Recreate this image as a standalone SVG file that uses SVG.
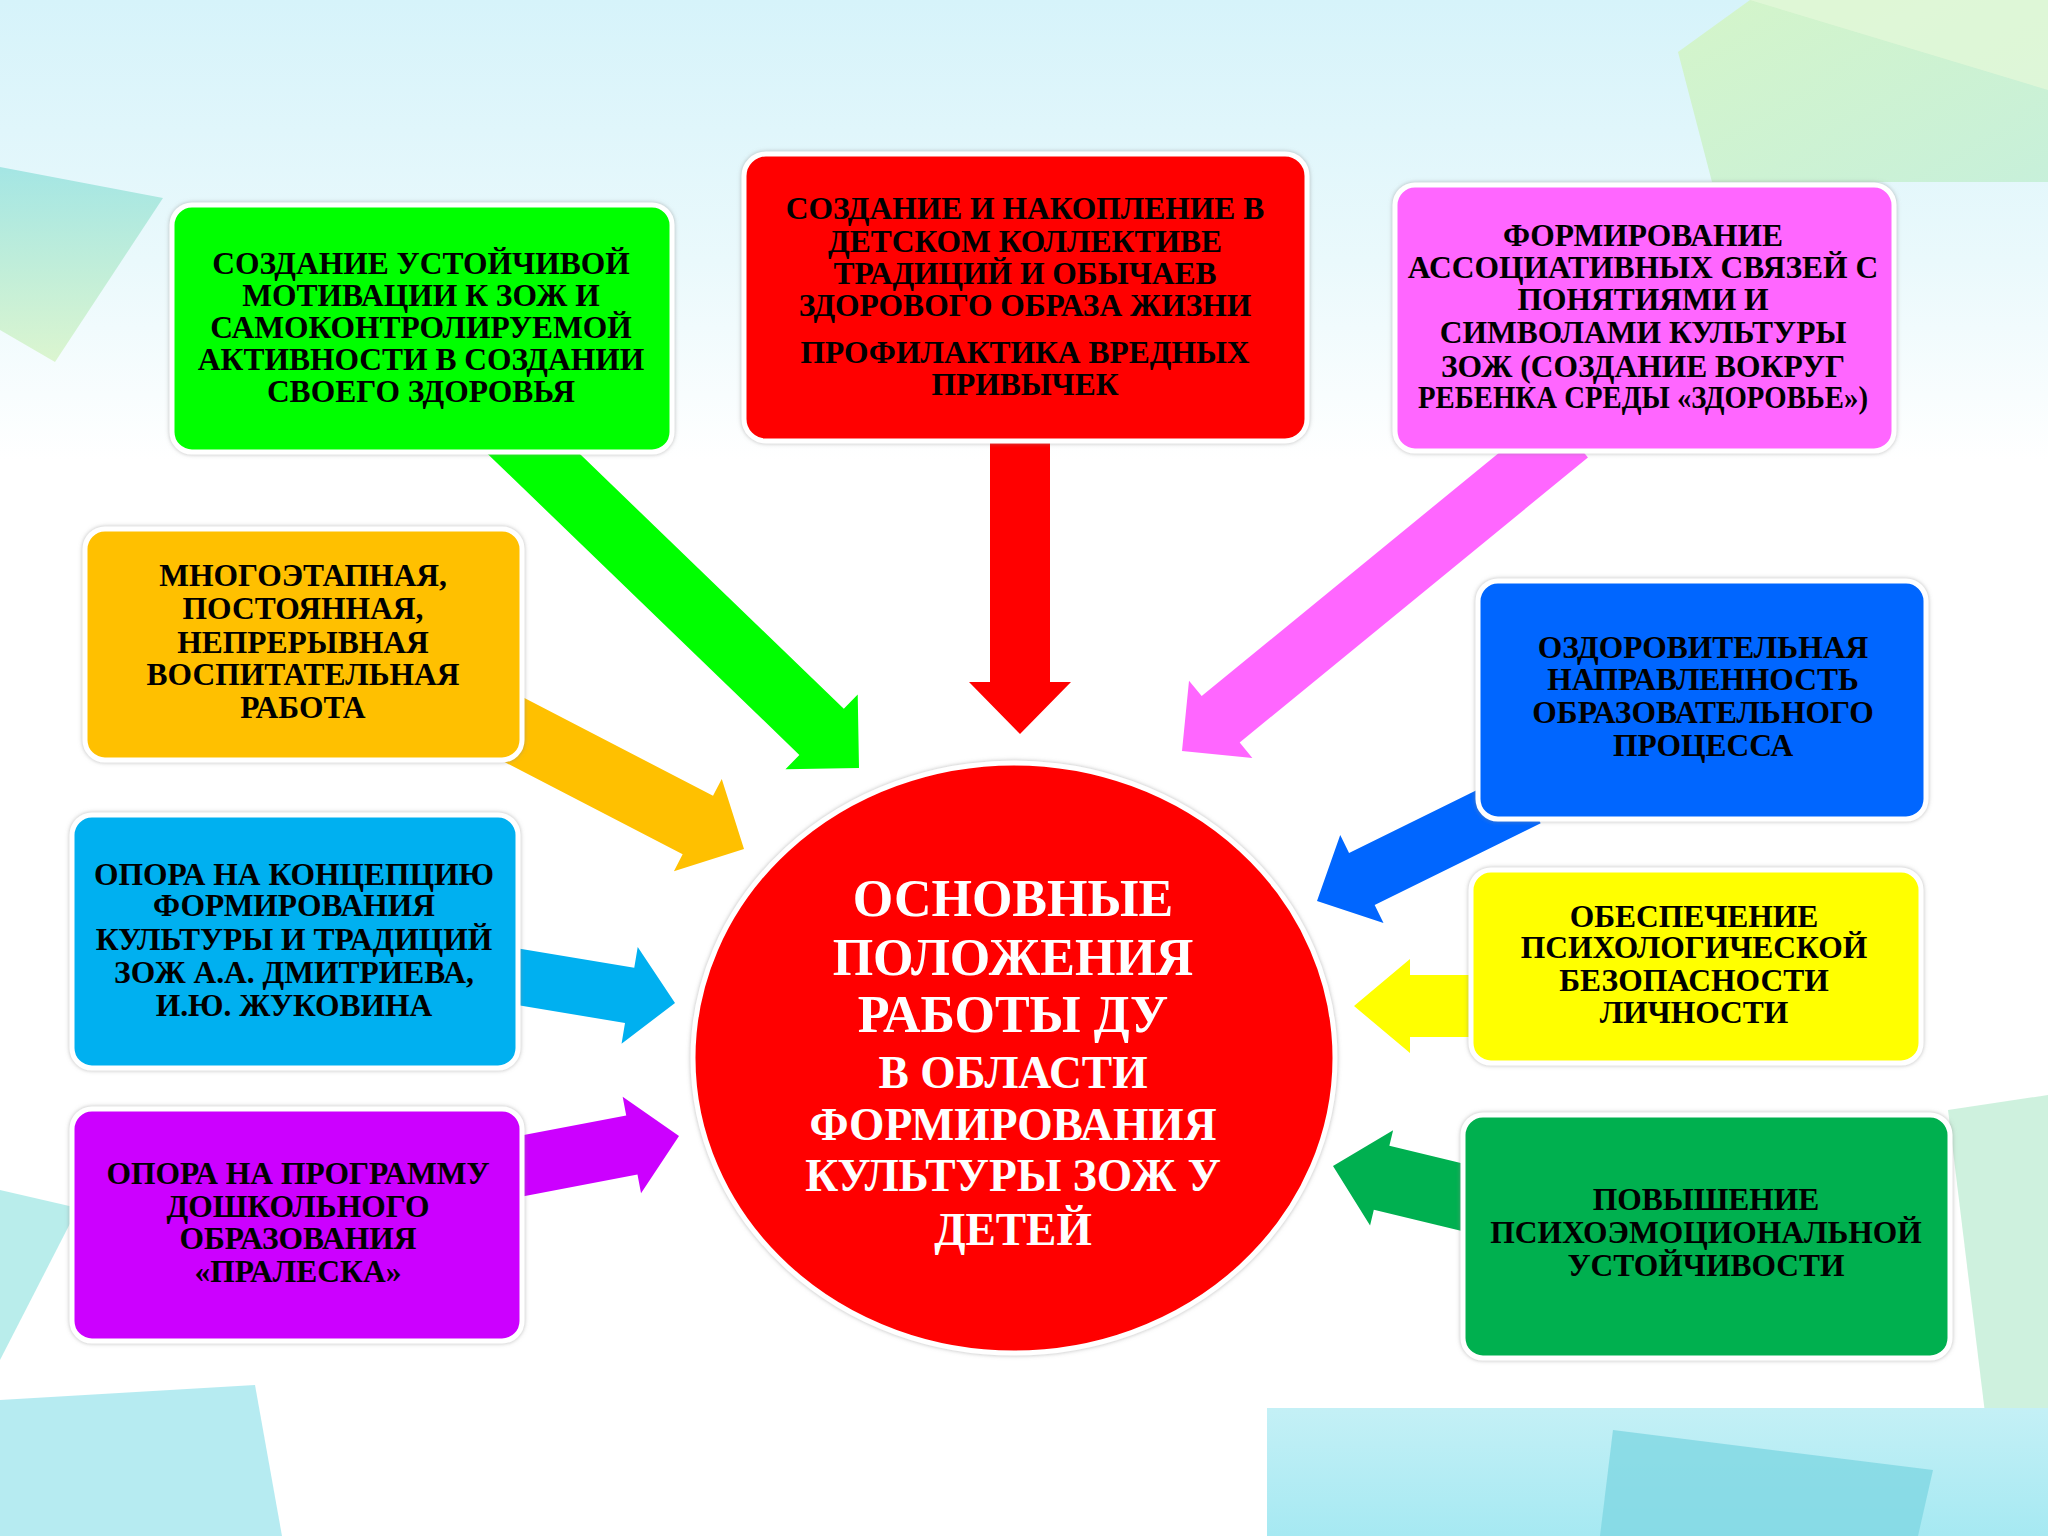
<svg xmlns="http://www.w3.org/2000/svg" width="2048" height="1536" viewBox="0 0 2048 1536">
<defs>
<linearGradient id="bg" x1="0" y1="0" x2="0" y2="1">
<stop offset="0" stop-color="#d6f3fa"/>
<stop offset="0.17" stop-color="#eaf9fc"/>
<stop offset="0.3" stop-color="#ffffff"/>
<stop offset="1" stop-color="#ffffff"/>
</linearGradient>
<linearGradient id="tealL" x1="0" y1="0" x2="0" y2="1">
<stop offset="0" stop-color="#8fe0dc"/>
<stop offset="1" stop-color="#d3f3c0"/>
</linearGradient>
<linearGradient id="greenTR" x1="0" y1="0" x2="1" y2="1">
<stop offset="0" stop-color="#d4f5c4"/>
<stop offset="1" stop-color="#c4efd6"/>
</linearGradient>
<linearGradient id="cyanB" x1="0" y1="0" x2="0" y2="1">
<stop offset="0" stop-color="#c4f0f6"/>
<stop offset="1" stop-color="#a6e9f2"/>
</linearGradient>
<filter id="sh" x="-10%" y="-10%" width="120%" height="120%">
<feDropShadow dx="0" dy="0" stdDeviation="2" flood-color="#8a8a8a" flood-opacity="0.6"/>
</filter>
<style>
.box{stroke:#ffffff;stroke-width:5;filter:url(#sh)}
.t{font-family:"Liberation Serif","Times New Roman",serif;font-weight:bold;font-size:31.5px;fill:#000000;text-anchor:middle}
.c1{font-family:"Liberation Serif","Times New Roman",serif;font-weight:bold;font-size:52px;fill:#ffffff;text-anchor:middle}
.c2{font-family:"Liberation Serif","Times New Roman",serif;font-weight:bold;font-size:45.5px;fill:#ffffff;text-anchor:middle}
</style>
</defs>

<g id="background">
<rect x="0" y="0" width="2048" height="1536" fill="url(#bg)"/>
<polygon points="1678,52 1750,0 2048,0 2048,182 1712,182" fill="url(#greenTR)" opacity="0.9"/>
<polygon points="1750,0 2048,0 2048,90" fill="#e2f8d8" opacity="0.8"/>
<polygon points="0,167 163,198 55,362 0,330" fill="url(#tealL)" opacity="0.75"/>
<polygon points="1948,1110 2048,1095 2048,1536 2000,1536" fill="#c6efd8" opacity="0.85"/>
<polygon points="0,1190 78,1208 0,1360" fill="#a8e8e6" opacity="0.8"/>
<polygon points="0,1400 255,1385 282,1536 0,1536" fill="#a9e8ee" opacity="0.85"/>
<rect x="1267" y="1408" width="781" height="128" fill="url(#cyanB)"/>
<polygon points="1613,1430 1933,1470 1918,1536 1600,1536" fill="#7fd7e2" opacity="0.8"/>
</g>

<g id="connectors">
<polygon transform="translate(859,768) rotate(44)" points="-490,-32 -52,-32 -52,-52 0,0 -52,52 -52,32 -490,32" fill="#00ff00"/>
<polygon transform="translate(1020,734) rotate(90)" points="-330,-30 -52,-30 -52,-51 0,0 -52,51 -52,30 -330,30" fill="#ff0000"/>
<polygon transform="translate(1182,751) rotate(140.7)" points="-500,-30 -50,-30 -50,-50 0,0 -50,50 -50,30 -500,30" fill="#ff66ff"/>
<polygon transform="translate(744,849) rotate(27.4)" points="-290,-33 -52,-33 -52,-52 0,0 -52,52 -52,33 -290,33" fill="#ffc000"/>
<polygon transform="translate(675,1003) rotate(9.5)" points="-190,-28 -46,-28 -46,-49 0,0 -46,49 -46,28 -190,28" fill="#00b0f0"/>
<polygon transform="translate(679,1136) rotate(-10.8)" points="-190,-30 -48,-30 -48,-49 0,0 -48,49 -48,30 -190,30" fill="#cc00ff"/>
<polygon transform="translate(1317,901) rotate(153.8)" points="-235,-29 -50,-29 -50,-49 0,0 -50,49 -50,29 -235,29" fill="#0066ff"/>
<polygon transform="translate(1354,1006) rotate(180)" points="-150,-31 -56,-31 -56,-47 0,0 -56,47 -56,31 -150,31" fill="#ffff00"/>
<polygon transform="translate(1333,1166) rotate(193.6)" points="-165,-33 -50,-33 -50,-49 0,0 -50,49 -50,33 -165,33" fill="#00b050"/>
</g>

<g id="node-green">
<rect class="box" x="172" y="205" width="500" height="247" rx="20" fill="#00ff00"/>
<text class="t" x="421" y="274">СОЗДАНИЕ УСТОЙЧИВОЙ</text>
<text class="t" x="421" y="306">МОТИВАЦИИ К ЗОЖ И</text>
<text class="t" x="421" y="338">САМОКОНТРОЛИРУЕМОЙ</text>
<text class="t" x="421" y="370">АКТИВНОСТИ В СОЗДАНИИ</text>
<text class="t" x="421" y="402">СВОЕГО ЗДОРОВЬЯ</text>
</g>

<g id="node-red">
<rect class="box" x="744" y="154" width="563" height="287" rx="22" fill="#ff0000"/>
<text class="t" x="1025" y="219">СОЗДАНИЕ И НАКОПЛЕНИЕ В</text>
<text class="t" x="1025" y="252">ДЕТСКОМ КОЛЛЕКТИВЕ</text>
<text class="t" x="1025" y="284">ТРАДИЦИЙ И ОБЫЧАЕВ</text>
<text class="t" x="1025" y="316">ЗДОРОВОГО ОБРАЗА ЖИЗНИ</text>
<text class="t" x="1025" y="363">ПРОФИЛАКТИКА ВРЕДНЫХ</text>
<text class="t" x="1025" y="395">ПРИВЫЧЕК</text>
</g>

<g id="node-pink">
<rect class="box" x="1395" y="185" width="499" height="266" rx="20" fill="#ff66ff"/>
<text class="t" x="1643" y="246">ФОРМИРОВАНИЕ</text>
<text class="t" x="1643" y="278">АССОЦИАТИВНЫХ СВЯЗЕЙ С</text>
<text class="t" x="1643" y="310">ПОНЯТИЯМИ И</text>
<text class="t" x="1643" y="343">СИМВОЛАМИ КУЛЬТУРЫ</text>
<text class="t" x="1643" y="377">ЗОЖ (СОЗДАНИЕ ВОКРУГ</text>
<text class="t" x="1643" y="408" textLength="450" lengthAdjust="spacingAndGlyphs">РЕБЕНКА СРЕДЫ «ЗДОРОВЬЕ»)</text>
</g>

<g id="node-orange">
<rect class="box" x="85" y="529" width="437" height="231" rx="20" fill="#ffc000"/>
<text class="t" x="303" y="586">МНОГОЭТАПНАЯ,</text>
<text class="t" x="303" y="619">ПОСТОЯННАЯ,</text>
<text class="t" x="303" y="653">НЕПРЕРЫВНАЯ</text>
<text class="t" x="303" y="685">ВОСПИТАТЕЛЬНАЯ</text>
<text class="t" x="303" y="718">РАБОТА</text>
</g>

<g id="node-cyan">
<rect class="box" x="72" y="815" width="446" height="253" rx="20" fill="#00b0f0"/>
<text class="t" x="294" y="885">ОПОРА НА КОНЦЕПЦИЮ</text>
<text class="t" x="294" y="916">ФОРМИРОВАНИЯ</text>
<text class="t" x="294" y="950">КУЛЬТУРЫ И ТРАДИЦИЙ</text>
<text class="t" x="294" y="983">ЗОЖ А.А. ДМИТРИЕВА,</text>
<text class="t" x="294" y="1016">И.Ю. ЖУКОВИНА</text>
</g>

<g id="node-purple">
<rect class="box" x="72" y="1109" width="450" height="232" rx="20" fill="#cc00ff"/>
<text class="t" x="298" y="1184">ОПОРА НА ПРОГРАММУ</text>
<text class="t" x="298" y="1217">ДОШКОЛЬНОГО</text>
<text class="t" x="298" y="1249">ОБРАЗОВАНИЯ</text>
<text class="t" x="298" y="1282">«ПРАЛЕСКА»</text>
</g>

<g id="node-blue">
<rect class="box" x="1478" y="581" width="448" height="238" rx="20" fill="#0066ff"/>
<text class="t" x="1703" y="658">ОЗДОРОВИТЕЛЬНАЯ</text>
<text class="t" x="1703" y="690">НАПРАВЛЕННОСТЬ</text>
<text class="t" x="1703" y="723">ОБРАЗОВАТЕЛЬНОГО</text>
<text class="t" x="1703" y="756">ПРОЦЕССА</text>
</g>

<g id="node-yellow">
<rect class="box" x="1471" y="870" width="450" height="193" rx="20" fill="#ffff00"/>
<text class="t" x="1694" y="927">ОБЕСПЕЧЕНИЕ</text>
<text class="t" x="1694" y="958">ПСИХОЛОГИЧЕСКОЙ</text>
<text class="t" x="1694" y="991">БЕЗОПАСНОСТИ</text>
<text class="t" x="1694" y="1023">ЛИЧНОСТИ</text>
</g>

<g id="node-darkgreen">
<rect class="box" x="1463" y="1115" width="487" height="243" rx="20" fill="#00b050"/>
<text class="t" x="1706" y="1210">ПОВЫШЕНИЕ</text>
<text class="t" x="1706" y="1243">ПСИХОЭМОЦИОНАЛЬНОЙ</text>
<text class="t" x="1706" y="1276">УСТОЙЧИВОСТИ</text>
</g>

<g id="node-center">
<ellipse class="box" cx="1014" cy="1058" rx="321" ry="295" fill="#ff0000"/>
<text class="c1" x="1013" y="916">ОСНОВНЫЕ</text>
<text class="c1" x="1013" y="975">ПОЛОЖЕНИЯ</text>
<text class="c1" x="1013" y="1032">РАБОТЫ ДУ</text>
<text class="c2" x="1013" y="1088">В ОБЛАСТИ</text>
<text class="c2" x="1013" y="1140">ФОРМИРОВАНИЯ</text>
<text class="c2" x="1013" y="1191">КУЛЬТУРЫ ЗОЖ У</text>
<text class="c2" x="1013" y="1245">ДЕТЕЙ</text>
</g>
</svg>
